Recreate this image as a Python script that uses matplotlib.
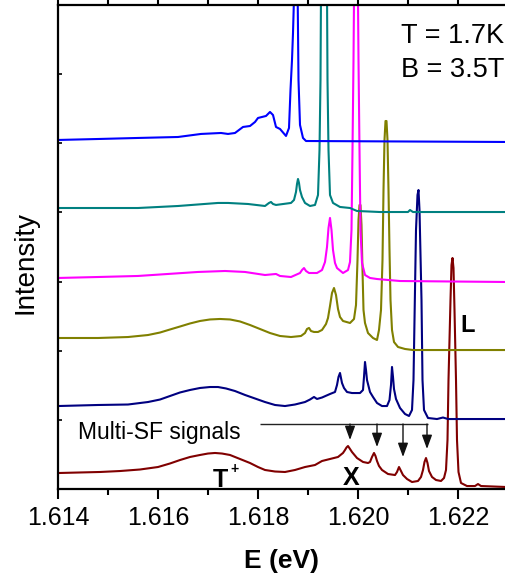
import matplotlib

matplotlib.use("Agg")
import matplotlib.pyplot as plt
from matplotlib.ticker import FixedLocator, MultipleLocator, NullFormatter

plt.rcParams["font.family"] = ["Liberation Sans", "DejaVu Sans"]

# PL spectra at T = 1.7 K, B = 3.5 T; energy in eV, intensity in arb. units
# (each trace relative to its own baseline, stacked with TRACE_OFFSETS)
blue_e = [1.61400, 1.61480, 1.61560, 1.61640, 1.61686, 1.61726, 1.61740, 1.61754,
          1.61770, 1.61784, 1.61794, 1.61800, 1.61816, 1.61824, 1.61830, 1.61836,
          1.61844, 1.61856, 1.61862, 1.61865, 1.61868, 1.61870, 1.61873, 1.61876,
          1.61879, 1.61881, 1.61884, 1.61890, 1.61896, 1.62296]
blue_i = [0.048, 0.062, 0.077, 0.091, 0.135, 0.149, 0.135, 0.149,
          0.236, 0.250, 0.308, 0.366, 0.395, 0.453, 0.409, 0.236,
          0.207, 0.106, 0.221, 0.771, 1.205, 1.595, 2.362, 6.412,
          2.362, 0.915, 0.265, 0.077, 0.033, 0.019]

teal_e = [1.61400, 1.61480, 1.61560, 1.61640, 1.61720, 1.61740, 1.61780, 1.61814,
          1.61822, 1.61826, 1.61830, 1.61836, 1.61866, 1.61872, 1.61876, 1.61878,
          1.61880, 1.61882, 1.61884, 1.61888, 1.61894, 1.61904, 1.61914, 1.61920,
          1.61923, 1.61925, 1.61927, 1.61932, 1.61937, 1.61939, 1.61941, 1.61944,
          1.61950, 1.61964, 1.61984, 1.61998, 1.62044, 1.62100, 1.62104, 1.62110,
          1.62296]
teal_i = [0.064, 0.064, 0.064, 0.093, 0.137, 0.137, 0.122, 0.093,
          0.137, 0.151, 0.122, 0.108, 0.137, 0.180, 0.296, 0.411,
          0.484, 0.426, 0.324, 0.223, 0.137, 0.093, 0.108, 0.252,
          0.903, 1.915, 4.519, 8.858, 4.519, 1.915, 0.903, 0.252,
          0.137, 0.079, 0.064, 0.021, 0.006, 0.006, 0.035, 0.006,
          0.006]

magenta_e = [1.61400, 1.61480, 1.61560, 1.61620, 1.61680, 1.61734, 1.61774, 1.61814,
             1.61836, 1.61844, 1.61866, 1.61884, 1.61888, 1.61892, 1.61896, 1.61902,
             1.61918, 1.61928, 1.61934, 1.61938, 1.61941, 1.61944, 1.61947, 1.61950,
             1.61954, 1.61958, 1.61970, 1.61980, 1.61984, 1.61987, 1.61989, 1.61991,
             1.61993, 1.61996, 1.61999, 1.62001, 1.62003, 1.62005, 1.62008, 1.62014,
             1.62024, 1.62038, 1.62084, 1.62296]
magenta_i = [0.052, 0.066, 0.081, 0.110, 0.139, 0.153, 0.139, 0.095,
             0.110, 0.081, 0.066, 0.124, 0.167, 0.196, 0.153, 0.124,
             0.124, 0.167, 0.283, 0.500, 0.775, 0.920, 0.746, 0.457,
             0.269, 0.196, 0.124, 0.167, 0.283, 0.746, 1.903, 3.205,
             4.940, 6.965, 4.940, 3.205, 1.903, 0.746, 0.269, 0.095,
             0.052, 0.037, 0.008, -0.006]

olive_e = [1.61400, 1.61480, 1.61540, 1.61580, 1.61604, 1.61624, 1.61644, 1.61664,
           1.61684, 1.61704, 1.61724, 1.61744, 1.61764, 1.61784, 1.61804, 1.61824,
           1.61844, 1.61866, 1.61886, 1.61894, 1.61898, 1.61902, 1.61906, 1.61912,
           1.61920, 1.61928, 1.61936, 1.61940, 1.61944, 1.61948, 1.61952, 1.61956,
           1.61960, 1.61964, 1.61970, 1.61984, 1.61992, 1.61996, 1.61999, 1.62001,
           1.62003, 1.62005, 1.62007, 1.62009, 1.62011, 1.62014, 1.62020, 1.62030,
           1.62038, 1.62042, 1.62046, 1.62049, 1.62051, 1.62053, 1.62055, 1.62057,
           1.62059, 1.62061, 1.62063, 1.62065, 1.62068, 1.62072, 1.62080, 1.62094,
           1.62110, 1.62296]
olive_i = [0.184, 0.184, 0.198, 0.227, 0.263, 0.307, 0.350, 0.394,
           0.430, 0.452, 0.459, 0.452, 0.423, 0.372, 0.314, 0.256,
           0.213, 0.198, 0.213, 0.256, 0.314, 0.329, 0.285, 0.271,
           0.271, 0.300, 0.386, 0.473, 0.647, 0.835, 0.907, 0.806,
           0.603, 0.488, 0.430, 0.401, 0.459, 0.661, 1.312, 1.891,
           2.107, 2.107, 1.818, 1.167, 0.589, 0.401, 0.256, 0.184,
           0.155, 0.300, 0.589, 1.312, 2.324, 3.048, 3.322, 3.322,
           3.048, 2.324, 1.457, 0.734, 0.300, 0.126, 0.054, 0.025,
           0.010, 0.010]

navy_e = [1.61400, 1.61480, 1.61540, 1.61580, 1.61604, 1.61624, 1.61644, 1.61664,
          1.61684, 1.61704, 1.61720, 1.61736, 1.61754, 1.61774, 1.61794, 1.61814,
          1.61834, 1.61854, 1.61874, 1.61894, 1.61904, 1.61912, 1.61918, 1.61928,
          1.61944, 1.61954, 1.61958, 1.61961, 1.61964, 1.61966, 1.61968, 1.61972,
          1.61978, 1.61988, 1.62004, 1.62010, 1.62012, 1.62014, 1.62016, 1.62018,
          1.62024, 1.62030, 1.62038, 1.62048, 1.62058, 1.62063, 1.62066, 1.62068,
          1.62070, 1.62072, 1.62076, 1.62084, 1.62094, 1.62102, 1.62108, 1.62111,
          1.62113, 1.62116, 1.62119, 1.62121, 1.62123, 1.62127, 1.62129, 1.62132,
          1.62140, 1.62158, 1.62170, 1.62180, 1.62296]
navy_i = [0.200, 0.215, 0.222, 0.258, 0.294, 0.345, 0.396, 0.432,
          0.461, 0.475, 0.475, 0.454, 0.417, 0.360, 0.309, 0.258,
          0.215, 0.200, 0.222, 0.258, 0.294, 0.331, 0.302, 0.323,
          0.374, 0.403, 0.504, 0.620, 0.678, 0.605, 0.533, 0.461,
          0.403, 0.388, 0.388, 0.432, 0.620, 0.837, 0.721, 0.576,
          0.403, 0.331, 0.244, 0.200, 0.200, 0.287, 0.504, 0.765,
          0.620, 0.446, 0.302, 0.172, 0.085, 0.056, 0.143, 0.576,
          1.444, 2.746, 3.252, 3.324, 3.035, 1.734, 0.576, 0.143,
          0.027, 0.012, 0.034, 0.012, 0.012]

red_e = [1.61400, 1.61444, 1.61484, 1.61524, 1.61564, 1.61600, 1.61624, 1.61644,
         1.61664, 1.61684, 1.61700, 1.61714, 1.61728, 1.61744, 1.61764, 1.61784,
         1.61800, 1.61814, 1.61834, 1.61854, 1.61874, 1.61894, 1.61914, 1.61928,
         1.61944, 1.61960, 1.61970, 1.61974, 1.61977, 1.61980, 1.61984, 1.61988,
         1.61998, 1.62010, 1.62020, 1.62024, 1.62028, 1.62032, 1.62035, 1.62038,
         1.62042, 1.62048, 1.62060, 1.62074, 1.62078, 1.62082, 1.62086, 1.62090,
         1.62098, 1.62108, 1.62120, 1.62126, 1.62130, 1.62133, 1.62136, 1.62139,
         1.62142, 1.62148, 1.62156, 1.62166, 1.62172, 1.62176, 1.62179, 1.62181,
         1.62185, 1.62187, 1.62189, 1.62191, 1.62193, 1.62196, 1.62198, 1.62201,
         1.62206, 1.62218, 1.62234, 1.62240, 1.62246, 1.62296]
red_i = [0.231, 0.239, 0.246, 0.260, 0.282, 0.318, 0.369, 0.419,
         0.463, 0.492, 0.513, 0.521, 0.513, 0.492, 0.434, 0.376,
         0.318, 0.275, 0.253, 0.246, 0.275, 0.318, 0.347, 0.405,
         0.434, 0.463, 0.521, 0.564, 0.600, 0.622, 0.579, 0.535,
         0.448, 0.391, 0.376, 0.391, 0.463, 0.521, 0.477, 0.405,
         0.333, 0.275, 0.217, 0.202, 0.246, 0.318, 0.260, 0.202,
         0.145, 0.101, 0.116, 0.174, 0.275, 0.391, 0.448, 0.376,
         0.260, 0.174, 0.130, 0.116, 0.159, 0.275, 0.709, 1.576,
         2.734, 3.240, 3.341, 3.196, 2.589, 1.576, 0.709, 0.246,
         0.087, 0.043, 0.043, 0.072, 0.043, 0.029]

TRACES = [
    (red_e, red_i, "#800000"),
    (navy_e, navy_i, "#000080"),
    (olive_e, olive_i, "#808000"),
    (magenta_e, magenta_i, "#FF00FF"),
    (teal_e, teal_i, "#008080"),
    (blue_e, blue_i, "#0000FF"),
]
TRACE_OFFSETS = [0, 1, 2, 3, 4, 5]

# multi spin-flip markers: bar height and arrow tips (on the bottom trace)
sf_bar_y = 0.94
sf_bar_span = (1.61804, 1.62140)
sf_arrow_e = [1.61984, 1.62038, 1.62090, 1.62138]
sf_arrow_tip = [0.709, 0.607, 0.463, 0.579]

XMIN, XMAX = 1.614, 1.62296

fig = plt.figure(figsize=(5.06, 5.81), dpi=100)
ax = fig.add_axes([58 / 506, 1 - 489 / 581, 1 - 58 / 506, 484 / 581])

for (e, inten, color), off in zip(TRACES, TRACE_OFFSETS):
    ax.plot(e, [v + off for v in inten], color=color, lw=1.5,
            solid_joinstyle="round", solid_capstyle="round")

ax.set_xlim(XMIN, XMAX)
ax.set_ylim(0, 7)

# annotations
ax.hlines(sf_bar_y, *sf_bar_span, color="#222222", lw=1.0)
for e, tip in zip(sf_arrow_e, sf_arrow_tip):
    ax.annotate("", xy=(e, tip), xytext=(e, sf_bar_y),
                arrowprops=dict(arrowstyle="-|>,head_length=0.6,head_width=0.22",
                                mutation_scale=14, color="#111111", lw=1.0,
                                shrinkA=0, shrinkB=0))
ax.text(1.61440, 0.723, "Multi-SF signals", fontsize=16.5, ha="left", va="baseline")
ax.text(1.61710, 0.029, "T", fontsize=18, fontweight="bold", ha="left", va="baseline")
ax.text(1.61753, 0.296, "+", fontsize=10, fontweight="bold", ha="center", va="center")
ax.text(1.61986, 0.058, "X", fontsize=18, fontweight="bold", ha="center", va="baseline")
ax.text(1.62204, 2.271, "L", fontsize=17, fontweight="bold", ha="left", va="baseline")
ax.text(1.62086, 6.45, "T = 1.7K", fontsize=19.5, ha="left", va="baseline")
ax.text(1.62086, 5.96, "B = 3.5T", fontsize=19.5, ha="left", va="baseline")

# axes styling
for side in ("left", "bottom", "top"):
    ax.spines[side].set_linewidth(1.6)
ax.spines["right"].set_visible(False)

ax.xaxis.set_major_locator(MultipleLocator(0.002))
ax.xaxis.set_minor_locator(MultipleLocator(0.001))
ax.xaxis.set_major_formatter(plt.FormatStrFormatter("%.3f"))
ax.tick_params(axis="x", which="major", direction="out", length=7, width=1.5,
               labelsize=18, pad=5, top=True)
ax.tick_params(axis="x", which="minor", direction="out", length=4, width=1.5, top=True)
ax.tick_params(axis="x", which="both", labeltop=False)

ax.yaxis.set_major_locator(FixedLocator(range(8)))
ax.yaxis.set_major_formatter(NullFormatter())
ax.tick_params(axis="y", which="major", direction="in", length=3, width=1.2, right=False)

ax.set_xlabel("E (eV)", fontsize=19, fontweight="bold")
ax.xaxis.set_label_coords(0.5, -0.124)
ax.set_ylabel("Intensity", fontsize=20)
ax.yaxis.set_label_coords(-0.044, 0.469)

fig.savefig("out.png", dpi=100)
